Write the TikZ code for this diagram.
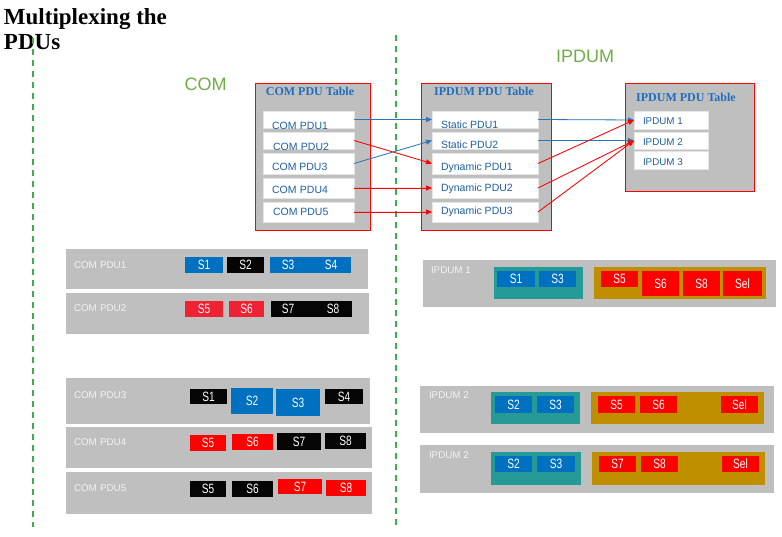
\documentclass[tikz,border=0pt]{standalone}
\usepackage{fontspec}
\setmainfont{Liberation Serif}
\setsansfont{Liberation Sans}
\newfontfamily\narrowf[FakeStretch=0.75]{Liberation Sans}
\usetikzlibrary{arrows.meta}
\definecolor{pgray}{HTML}{BFBFBF}
\definecolor{pblue}{HTML}{0070C0}
\definecolor{pred}{HTML}{FF0000}
\definecolor{pred2}{HTML}{EE2233}
\definecolor{pblack}{HTML}{050505}
\definecolor{pteal}{HTML}{259A97}
\definecolor{polive}{HTML}{BF8F00}
\definecolor{pgreen}{HTML}{3DAE49}
\definecolor{hgreen}{HTML}{70AD47}
\definecolor{ttblue}{HTML}{1F6FBF}
\definecolor{rowtxt}{HTML}{1F5F9F}
\definecolor{arrblue}{HTML}{2E75B6}
\tikzset{
  bas/.style={inner sep=0pt, outer sep=0pt},
  tablebox/.style={bas, fill=pgray, draw=pred, line width=0.8pt},
  rowbox/.style={bas, fill=white, draw=black!10, line width=0.5pt},
  band/.style={bas, fill=pgray},
  seg/.style={bas, text=white, font=\narrowf\fontsize{13.5}{13.5}\selectfont},
  ttitle/.style={bas, anchor=base, text=ttblue, font=\bfseries\fontsize{12}{12}\selectfont},
  rowtext/.style={bas, anchor=west, text=rowtxt, font=\sffamily\fontsize{10.5}{10.5}\selectfont},
  lbl/.style={bas, anchor=west, text=white!95!black, font=\sffamily\fontsize{9.8}{9.8}\selectfont},
  heading/.style={bas, anchor=base, text=hgreen, font=\sffamily\fontsize{18}{18}\selectfont},
  gdash/.style={draw=pgreen, line width=1.3pt, dash pattern=on 6pt off 5pt},
  arr/.style={-{Triangle[length=6pt,width=5pt]}, line width=0.8pt},
  barr/.style={arr, draw=arrblue, fill=arrblue},
  rarr/.style={arr, draw=pred, fill=pred},
}
\newcommand{\bx}[7]{\node[#2, minimum width={(#5-#3)*1pt}, minimum height={(#6-#4)*1pt}] (#1) at ({(#3+#5)/2},{(#4+#6)/2}) {#7};}
\begin{document}
\begin{tikzpicture}[x=1pt,y=-1pt]
\useasboundingbox (0,0) rectangle (782,537);
% title
\node[bas, anchor=base west, font=\bfseries\fontsize{23}{25}\selectfont] (ti1) at (4,25) {Multiplexing the};
\node[bas, anchor=base west, font=\bfseries\fontsize{23}{25}\selectfont] (ti2) at (4,50) {PDUs};
% dashed separators
\coordinate (dla) at (33,38); \coordinate (dlb) at (33,527);
\coordinate (dra) at (396,35); \coordinate (drb) at (396,527);
\draw[gdash] (dla) -- (dlb);
\draw[gdash] (dra) -- (drb);
% headings
\node[heading] (hcom) at (205.5,90.5) {COM};
\node[heading] (hipdum) at (585,63) {IPDUM};
% tables
\bx{t1}{tablebox}{255}{83}{370}{230}{}
\node[ttitle] (t1t) at (310,96) {COM PDU Table};
\bx{t2}{tablebox}{421}{83}{551}{230}{}
\node[ttitle] (t2t) at (484,96) {IPDUM PDU Table};
\bx{t3}{tablebox}{625}{83}{754}{191}{}
\node[ttitle] (t3t) at (686,102) {IPDUM PDU Table};
% COM rows
\bx{c1}{rowbox}{263}{111}{354}{128}{}
\bx{c2}{rowbox}{263}{132}{354}{149}{}
\bx{c3}{rowbox}{263}{153}{354}{174}{}
\bx{c4}{rowbox}{263}{178}{354}{198}{}
\bx{c5}{rowbox}{263}{202}{354}{222}{}
\node[rowtext] (c1t) at (272,125.5) {COM\,\,PDU1};
\node[rowtext] (c2t) at (273,146.7) {COM\,\,PDU2};
\node[rowtext] (c3t) at (272,166.7) {COM PDU3};
\node[rowtext] (c4t) at (272,190) {COM\,\,PDU4};
\node[rowtext] (c5t) at (273,212) {COM PDU5};
% IPDUM rows
\bx{s1}{rowbox}{432}{111}{538}{128}{}
\bx{s2}{rowbox}{432}{132}{538}{149}{}
\bx{d1}{rowbox}{432}{153}{538}{174}{}
\bx{d2}{rowbox}{432}{178}{538}{198}{}
\bx{d3}{rowbox}{432}{202}{538}{222}{}
\node[rowtext] (s1t) at (441,125) {Static PDU1};
\node[rowtext] (s2t) at (441,144.3) {Static PDU2};
\node[rowtext] (d1t) at (441,167.7) {Dynamic PDU1};
\node[rowtext] (d2t) at (441,189) {Dynamic PDU2};
\node[rowtext] (d3t) at (441,212) {Dynamic PDU3};
% third table rows
\bx{i1}{rowbox}{634}{111}{708}{129}{}
\bx{i2}{rowbox}{634}{132}{708}{149}{}
\bx{i3}{rowbox}{634}{151}{708}{169}{}
\node[rowtext, font=\sffamily\fontsize{9.8}{9.8}\selectfont] (i1t) at (643,120.7) {IPDUM 1};
\node[rowtext, font=\sffamily\fontsize{9.8}{9.8}\selectfont] (i2t) at (643,142) {IPDUM 2};
\node[rowtext, font=\sffamily\fontsize{9.8}{9.8}\selectfont] (i3t) at (643,162) {IPDUM 3};
% arrows
\draw[barr] (c1.east) -- (s1.west);
\draw[rarr] (c2.east) -- (d1.west);
\draw[barr] (c3.east) -- (s2.west);
\draw[rarr] (c4.east) -- (d2.west);
\draw[rarr] (c5.east) -- (d3.west);
\draw[barr] (s1.east) -- (i1.west);
\draw[barr] (s2.east) -- (i2.west);
\draw[rarr] (d1.east) -- (i1.west);
\draw[rarr] (d2.east) -- (i2.west);
\draw[rarr] (d3.east) -- (i2.west);
% ---- left bands
\bx{b1}{band}{66}{249}{368}{289}{}
\node[lbl] (b1l) at (74,265) {COM\,\,PDU1};
\bx{b1a}{seg,fill=pblue}{185}{257}{223}{273}{S1}
\bx{b1b}{seg,fill=pblack}{227}{257}{264}{273}{S2}
\bx{b1c}{seg,fill=pblue}{270}{257}{351}{273}{}
\node[seg] (b1c3) at (288,265) {S3};
\node[seg] (b1c4) at (331,265) {S4};
\bx{b2}{band}{66}{293}{369}{334}{}
\node[lbl] (b2l) at (74,308) {COM\,\,PDU2};
\bx{b2a}{seg,fill=pred2}{185}{301}{223}{317}{S5}
\bx{b2b}{seg,fill=pred2}{229}{301}{264}{317}{S6}
\bx{b2c}{seg,fill=pblack}{271}{301}{352}{317}{}
\node[seg] (b2c7) at (288,309) {S7};
\node[seg] (b2c8) at (333,309) {S8};
\bx{b3}{band}{66}{378}{370}{424}{}
\node[lbl] (b3l) at (74,395) {COM\,\,PDU3};
\bx{b3a}{seg,fill=pblack}{190}{389}{227}{404}{S1}
\bx{b3b}{seg,fill=pblue}{231}{388}{273}{414}{S2}
\bx{b3c}{seg,fill=pblue}{276}{389}{320}{416}{S3}
\bx{b3d}{seg,fill=pblack}{325}{389}{363}{404}{S4}
\bx{b4}{band}{66}{427}{372}{468}{}
\node[lbl] (b4l) at (74,442) {COM\,\,PDU4};
\bx{b4a}{seg,fill=pred}{190}{435}{226}{451}{S5}
\bx{b4b}{seg,fill=pred}{232}{434}{273}{450}{S6}
\bx{b4c}{seg,fill=pblack}{277}{433}{321}{450}{S7}
\bx{b4d}{seg,fill=pblack}{325}{433}{366}{449}{S8}
\bx{b5}{band}{66}{472}{372}{514}{}
\node[lbl] (b5l) at (74,488) {COM\,\,PDU5};
\bx{b5a}{seg,fill=pblack}{190}{481}{226}{497}{S5}
\bx{b5b}{seg,fill=pblack}{232}{481}{273}{497}{S6}
\bx{b5c}{seg,fill=pred}{278}{479}{322}{494}{S7}
\bx{b5d}{seg,fill=pred}{326}{480}{366}{496}{S8}
% ---- right bands
\bx{r1}{band}{423}{260}{776}{307}{}
\node[lbl] (r1l) at (431,270) {IPDUM 1};
\bx{r1t}{bas,fill=pteal}{494}{267}{583}{299}{}
\bx{r1a}{seg,fill=pblue}{497}{271}{535}{287}{S1}
\bx{r1b}{seg,fill=pblue}{539}{271}{576}{287}{S3}
\bx{r1o}{bas,fill=polive}{594}{267}{766}{299}{}
\bx{r1c}{seg,fill=pred}{601}{271}{638}{287}{S5}
\bx{r1d}{seg,fill=pred}{642}{271}{679}{296}{S6}
\bx{r1e}{seg,fill=pred}{683}{271}{720}{296}{S8}
\bx{r1f}{seg,fill=pred}{723}{271}{762}{296}{Sel}
\bx{r2}{band}{420}{386}{774}{433}{}
\node[lbl] (r2l) at (429,395) {IPDUM 2};
\bx{r2t}{bas,fill=pteal}{491}{392}{580}{424}{}
\bx{r2a}{seg,fill=pblue}{495}{396}{532}{413}{S2}
\bx{r2b}{seg,fill=pblue}{537}{396}{574}{413}{S3}
\bx{r2o}{bas,fill=polive}{591}{392}{764}{424}{}
\bx{r2c}{seg,fill=pred}{598}{396}{635}{413}{S5}
\bx{r2d}{seg,fill=pred}{640}{396}{677}{413}{S6}
\bx{r2e}{seg,fill=pred}{721}{396}{758}{413}{Sel}
\bx{r3}{band}{420}{445}{774}{493}{}
\node[lbl] (r3l) at (429,455) {IPDUM 2};
\bx{r3t}{bas,fill=pteal}{491}{452}{581}{485}{}
\bx{r3a}{seg,fill=pblue}{495}{456}{532}{472}{S2}
\bx{r3b}{seg,fill=pblue}{537}{456}{575}{472}{S3}
\bx{r3o}{bas,fill=polive}{592}{452}{765}{485}{}
\bx{r3c}{seg,fill=pred}{599}{456}{636}{472}{S7}
\bx{r3d}{seg,fill=pred}{641}{456}{678}{472}{S8}
\bx{r3e}{seg,fill=pred}{722}{456}{759}{472}{Sel}
\end{tikzpicture}
\end{document}
